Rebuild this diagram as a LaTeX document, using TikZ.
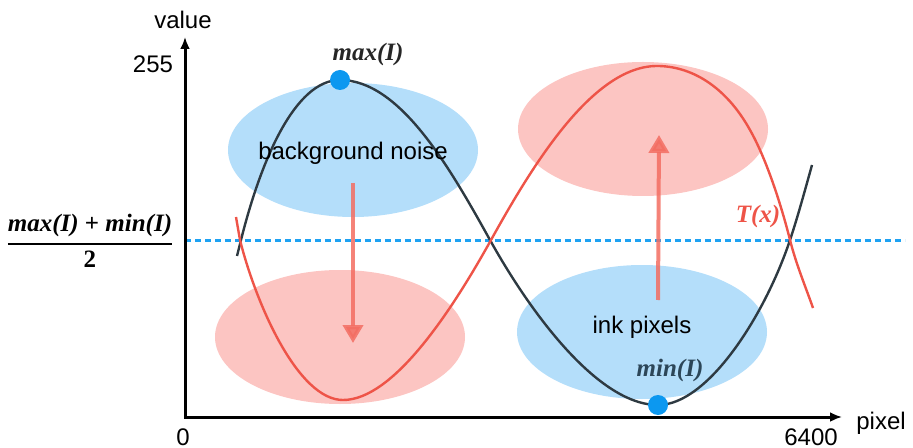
\documentclass[tikz,border=0pt]{standalone}
\usepackage{amsmath}
\usepackage{fontspec}
\setsansfont{Liberation Sans}
\newfontfamily\labfont{Liberation Serif}
\usetikzlibrary{shapes.geometric,arrows.meta}

\definecolor{skyblob}{RGB}{180,222,250}
\definecolor{pinkblob}{RGB}{252,197,194}
\definecolor{tcurve}{RGB}{238,84,72}
\definecolor{icurve}{RGB}{46,58,66}
\definecolor{midblue}{RGB}{30,162,242}
\definecolor{dotblue}{RGB}{12,152,240}
\definecolor{pushred}{RGB}{243,110,98}
\definecolor{minlab}{RGB}{44,70,88}

\tikzset{
  blob/.style={ellipse, minimum width=125pt, minimum height=67pt, inner sep=0pt},
  word/.style={font=\sffamily\fontsize{12}{14}\selectfont, inner sep=0pt},
  mathlab/.style={font=\labfont\bfseries\itshape\fontsize{12.5}{15}\selectfont, inner sep=0pt},
  extreme/.style={circle, fill=dotblue, minimum size=10pt, inner sep=0pt},
  push/.style={draw=pushred, fill=pushred, line width=2pt, draw opacity=0.85, fill opacity=0.85, -{Triangle[length=9pt,width=10pt]}},
  axis/.style={line width=1.5pt, {Latex[length=6pt,width=5pt]}-{Latex[length=6pt,width=5pt]}},
}

\begin{document}
\begin{tikzpicture}[x=0.5pt,y=-0.5pt]
    \useasboundingbox (0,0) rectangle (913,448);

            % Regions
            \node[blob, fill=skyblob] (noise) at (353,150) {};
            \node[blob, fill=pinkblob] (lowred) at (340,337) {};
            \node[blob, fill=pinkblob] (highred) at (643,129) {};
            \node[blob, fill=skyblob] (ink) at (642,332) {};

            % Threshold level
            \coordinate (midl) at (185,241);
            \coordinate (midr) at (905,241);
            \draw[midblue, line width=1.5pt, dash pattern=on 3pt off 2pt] (midl) -- (midr);

            % I(x)
            \draw[icurve, line width=1.2pt] (237,256) -- (241,240)
                .. controls (261,160) and (295,80) .. (340,80)
                .. controls (400,80) and (450,168) .. (490,240)
                .. controls (530,312) and (598,405) .. (658,405)
                .. controls (708,405) and (765,315) .. (790,240)
                .. controls (798,216) and (805,190) .. (812,165);
            % T(x)
            \draw[tcurve, line width=1.2pt] (236,217) -- (240,240)
                .. controls (256,304) and (298,400) .. (343,400)
                .. controls (393,400) and (451,312) .. (491,240)
                .. controls (531,168) and (592,66) .. (657,66)
                .. controls (690,66) and (725,85) .. (750,130)
                .. controls (767,160) and (782,208) .. (790,240)
                .. controls (796,264) and (806,288) .. (813,308);

            % Arrows
            \coordinate (sink) at (noise.center |- lowred.center);
            \draw[push] ([yshift=-16.5pt]noise.center) -- ([yshift=-3pt]sink); % noise pushed down
            \draw[push] ([xshift=8pt,yshift=16pt]ink.center) -- ([xshift=8pt,yshift=-3pt]highred.center); % ink pushed up

            % Texts
            \node[word] (noisetxt) at ([yshift=-1.5pt]noise.center) {background noise};
            \node[word] (inktxt) at ([yshift=2.5pt]ink.center) {ink pixels};

            % Extremes
            \node[extreme] (maxdot) at (340,80) {};
            \node[extreme] (mindot) at (658,405) {};
            \node[mathlab, color=black!85] (maxlab) at (368,54) {max(I)};
            \node[mathlab, color=minlab] (minlbl) at (670,370) {min(I)};
            \node[mathlab, color=tcurve] (tlab) at (758,216) {T(x)};

            % Axes
            \coordinate (origin) at (185,417);
            \coordinate (ytop) at (185,37);
            \coordinate (xend) at (842,417);
            \draw[axis] (ytop) -- (origin) -- (xend);
            \node[word] (ylab) at (183,20) {value};
            \node[word] (top) at (153,64) {255};
            \node[word] (zero) at (183,437) {0};
            \node[word] (xmax) at (811,437) {6400};
            \node[word] (xlab) at (881,423) {pixel};
            \node[mathlab] (half) at (90,241) {$\genfrac{}{}{1pt}{0}{\text{max(I) {\upshape+} min(I)}}{\text{\upshape 2}}$};

\end{tikzpicture}
\end{document}
